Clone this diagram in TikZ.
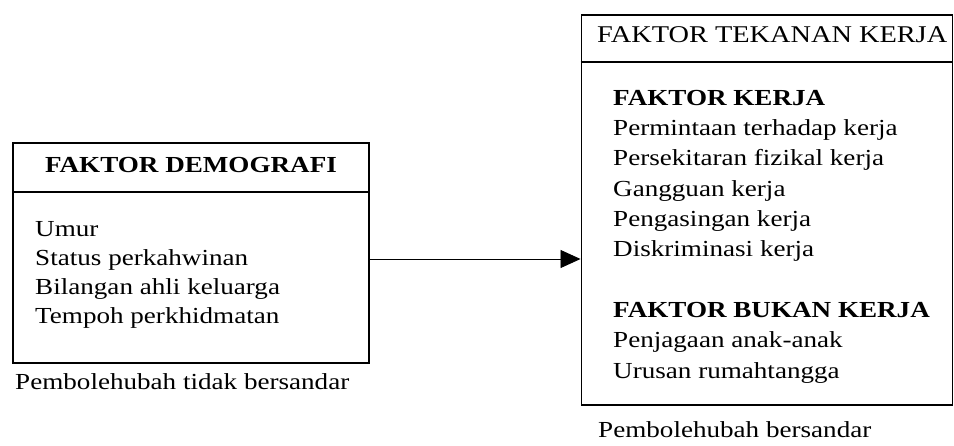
\documentclass[tikz,border=0pt]{standalone}
\usepackage{fontspec}
\setmainfont{Liberation Serif}[FakeStretch=1.18]
\usepackage{tikz}
\usetikzlibrary{arrows.meta,positioning}

\begin{document}
\begin{tikzpicture}[every node/.style={font=\fontsize{19.6}{24.8}\selectfont,inner sep=0pt}]
\useasboundingbox (0,0) rectangle (28.62,13.35);

% Left side - independent variables
\node[draw,rectangle,line width=1.1pt,minimum width=10.68cm,minimum height=6.6cm] (demo) at (5.73,5.76) {};
\draw[line width=1.1pt] (demo.west |- 0,7.59) -- (demo.east |- 0,7.59);
\node[anchor=base,font=\fontsize{19.6}{24.8}\selectfont\bfseries] (demotitle) at (5.73,8.19) {FAKTOR DEMOGRAFI};

\node[anchor=base west] (demolist) at (1.05,6.25) {
  \begin{tabular}[t]{@{}l@{}}
    Umur \\
    Status perkahwinan \\
    Bilangan ahli keluarga \\
    Tempoh perkhidmatan
  \end{tabular}
};
\node[anchor=base west] (demonote) at (0.45,1.68) {Pembolehubah tidak bersandar};

% Right side - dependent variables
\node[draw,rectangle,line width=1.1pt,minimum width=11.13cm,minimum height=11.7cm] (tekanan) at (23.0,7.05) {};
\draw[line width=1.1pt] (tekanan.west |- 0,11.49) -- (tekanan.east |- 0,11.49);
\node[anchor=base west,font=\fontsize{20.5}{24.8}\selectfont] (tekanantitle) at (17.91,12.09) {FAKTOR TEKANAN KERJA};

\node[anchor=base west,font=\fontsize{19.6}{25.9}\selectfont] (tekananlist) at (18.39,10.2) {
  \begin{tabular}[t]{@{}l@{}}
    \textbf{FAKTOR KERJA} \\
    Permintaan terhadap kerja \\
    Persekitaran fizikal kerja \\
    Gangguan kerja \\
    Pengasingan kerja \\
    Diskriminasi kerja \\
    \\
    \textbf{FAKTOR BUKAN KERJA} \\
    Penjagaan anak-anak \\
    Urusan rumahtangga
  \end{tabular}
};
\node[anchor=base west] (tekanannote) at (17.94,0.22) {Pembolehubah bersandar};

\draw[-{Triangle[length=0.6cm,width=0.54cm]},line width=0.8pt] (demo.east |- 0,5.58) -- (tekanan.west |- 0,5.58);

\end{tikzpicture}
\end{document}
